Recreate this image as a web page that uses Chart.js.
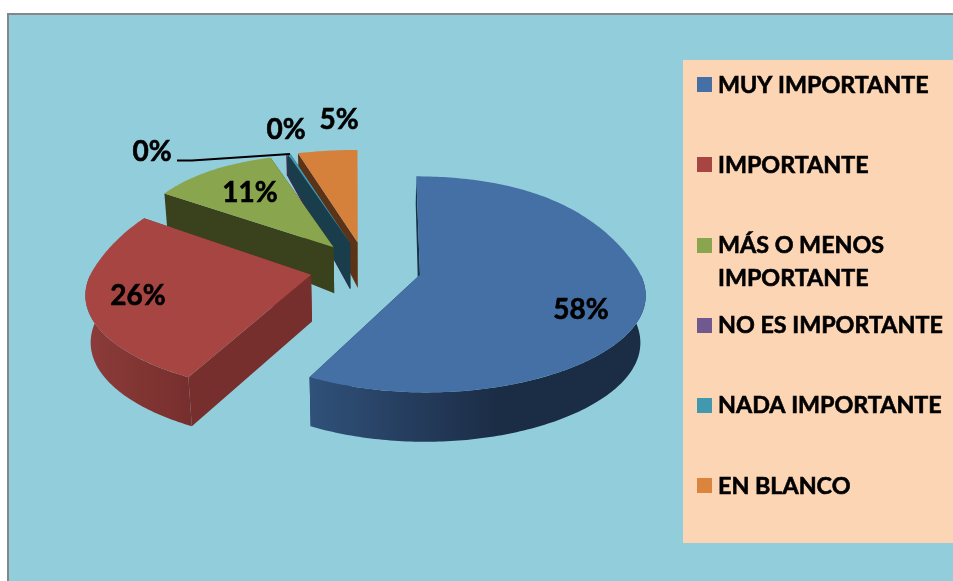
<!DOCTYPE html>
<html>
<head>
<meta charset="utf-8">
<title>Importancia</title>
<script src="https://cdn.jsdelivr.net/npm/chart.js@4"></script>
<style>
  html, body { margin: 0; padding: 0; background: #fff; overflow: hidden; }
  canvas { display: block; }
</style>
</head>
<body>
<canvas id="pie-chart" width="953" height="581"></canvas>
<script>
const categories = ["MUY IMPORTANTE", "IMPORTANTE", "MÁS O MENOS IMPORTANTE", "NO ES IMPORTANTE", "NADA IMPORTANTE", "EN BLANCO"];
const values = [57.7, 26.3, 10.9, 0.1, 0.2, 4.5];
const topColors = ["#4470A6", "#A64542", "#89A54E", "#71588F", "#4198AF", "#D5803B"];
const legendColors = ["#4470A6", "#A64542", "#89A54E", "#71588F", "#4198AF", "#DB843D"];
const sideColors = ["#1A3148", "#772F2D", "#3A421D", "#3C2F4D", "#1A3D4C", "#5C3317"];
const wallFrom = ["#30517A", "#8C3C3A", "#3A421D", "#3C2F4D", "#1A3D4C", "#5C3317"];
const wallTo = ["#1B2C45", "#772F2D", "#3A421D", "#3C2F4D", "#1A3D4C", "#5C3317"];

// label centres and legend rows, not part of the data
const labelSpots = [[581, 310], [138, 296], [250, 193], [152, 152], [286, 130], [339, 120]];
const legendRows = [85, 165, 245.5, 325.5, 405.5, 486];
const legendLines = [["MUY IMPORTANTE"], ["IMPORTANTE"], ["MÁS O MENOS", "IMPORTANTE"], ["NO ES IMPORTANTE"], ["NADA IMPORTANTE"], ["EN BLANCO"]];
const drawOrder = [5, 3, 4, 2, 1, 0];

const squash = 0.49;

function wallDepth(py) {
  if (py > -50) return 46 + 0.012 * (py + 50);
  return Math.max(46 - 0.12 * (-50 - py), 12);
}

// flat pie geometry -> tilted screen position
function project(el, ang, r, down) {
  const R = el.outerRadius;
  const mid = (el.startAngle + el.endAngle) / 2;
  const off = el.options.offset;
  const px = off * Math.cos(mid) + r * Math.cos(ang);
  const py = off * Math.sin(mid) + r * Math.sin(ang);
  const t = py / R;
  const s = t < 0 ? 1 + 0.2 * t + 0.15 * t * t : 1 + 0.2 * t - 0.07 * t * t;
  const d = wallDepth(py);
  return {
    x: el.x + px * s * (1 - 0.0004 * down * d),
    y: el.y + squash * py * (1 + 0.09 * t) + down * d
  };
}

function poly(ctx, pts, fill) {
  ctx.beginPath();
  pts.forEach((p, i) => (i ? ctx.lineTo(p.x, p.y) : ctx.moveTo(p.x, p.y)));
  ctx.closePath();
  ctx.fillStyle = fill;
  ctx.fill();
}

function arcPoints(el, a0, a1, down) {
  const pts = [];
  const n = Math.max(2, Math.ceil((a1 - a0) * 60));
  for (let i = 0; i <= n; i++) {
    pts.push(project(el, a0 + (a1 - a0) * i / n, el.outerRadius, down));
  }
  return pts;
}

function drawSlice(ctx, el, i) {
  const a0 = el.startAngle;
  const a1 = el.endAngle;
  const apexTop = project(el, a0, 0, 0);
  const apexLow = project(el, a0, 0, 1);
  const R = el.outerRadius;

  // the two cut faces
  poly(ctx, [apexTop, project(el, a0, R, 0), project(el, a0, R, 1), apexLow], sideColors[i]);
  poly(ctx, [apexTop, project(el, a1, R, 0), project(el, a1, R, 1), apexLow], sideColors[i]);

  // curved outer wall, only the part facing the viewer
  const f0 = Math.max(a0, 0);
  const f1 = Math.min(a1, Math.PI);
  if (f1 > f0) {
    const upper = arcPoints(el, f0, f1, 0);
    const lower = arcPoints(el, f0, f1, 1).reverse();
    const xs = upper.map((p) => p.x);
    const left = Math.min(...xs);
    const right = Math.max(...xs);
    const grad = ctx.createLinearGradient(left, 0, i === 0 ? left + 190 : right, 0);
    grad.addColorStop(0, wallFrom[i]);
    grad.addColorStop(1, wallTo[i]);
    poly(ctx, upper.concat(lower), grad);
  }

  // top face
  poly(ctx, [apexTop].concat(arcPoints(el, a0, a1, 0)), topColors[i]);
}

function boldText(ctx, text, x, y) {
  ctx.strokeText(text, x, y);
  ctx.fillText(text, x, y);
}

const pie3d = {
  id: "pie3d",
  beforeDraw(chart) {
    const ctx = chart.ctx;
    ctx.fillStyle = "#fff";
    ctx.fillRect(0, 0, 953, 581);
    ctx.fillStyle = "#92CDDC";
    ctx.fillRect(7, 13, 946, 568);
    ctx.fillStyle = "#868686";
    ctx.fillRect(7, 13, 946, 2);
    ctx.fillRect(7, 13, 2, 568);
    ctx.fillStyle = "#FCD5B5";
    ctx.fillRect(683, 60, 270, 483);
  },
  beforeDatasetsDraw(chart) {
    const ctx = chart.ctx;
    const arcs = chart.getDatasetMeta(0).data;
    drawOrder.forEach((i) => drawSlice(ctx, arcs[i], i));

    // leader line of the first 0%
    ctx.beginPath();
    ctx.moveTo(177, 160.5);
    ctx.lineTo(192, 160.5);
    ctx.lineTo(290, 154);
    ctx.lineWidth = 2;
    ctx.strokeStyle = "#000";
    ctx.stroke();

    ctx.fillStyle = "#000";
    ctx.lineWidth = 0.6;
    ctx.textBaseline = "middle";
    ctx.textAlign = "center";
    ctx.font = "bold 28px Lato";
    values.forEach((v, i) => {
      boldText(ctx, Math.round(v) + "%", labelSpots[i][0], labelSpots[i][1]);
    });

    ctx.textAlign = "left";
    ctx.font = "bold 23.3px Lato";
    legendRows.forEach((y, i) => {
      ctx.fillStyle = legendColors[i];
      ctx.fillRect(697, Math.round(y - 8), 15, 15);
      ctx.fillStyle = "#000";
      legendLines[i].forEach((line, j) => boldText(ctx, line, 718, y + j * 32.5));
    });
    return false;
  }
};

new Chart(document.getElementById("pie-chart"), {
  type: "pie",
  data: {
    labels: categories,
    datasets: [{ data: values, backgroundColor: topColors, offset: [56, 55, 54, 54, 54, 54], borderWidth: 0 }]
  },
  options: {
    responsive: false,
    animation: false,
    radius: 218,
    layout: { padding: { left: 0, top: 0, right: 223, bottom: 45 } },
    plugins: { legend: { display: false }, tooltip: { enabled: false } }
  },
  plugins: [pie3d]
});
</script>
</body>
</html>
